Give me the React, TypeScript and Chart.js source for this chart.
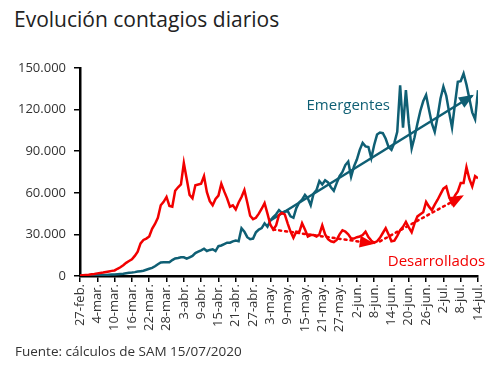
import React, { useEffect, useRef } from "react";
import { Chart, registerables } from "chart.js";

Chart.register(...registerables);

const TITLE = "Evolución contagios diarios";
const SOURCE = "Fuente: cálculos de SAM 15/07/2020";

const TICK_LABELS = [
  "27-feb.", "4-mar.", "10-mar.", "16-mar.", "22-mar.", "28-mar.", "3-abr.", "9-abr.",
  "15-abr.", "21-abr.", "27-abr.", "3-may.", "9-may.", "15-may.", "21-may.", "27-may.",
  "2-jun.", "8-jun.", "14-jun.", "20-jun.", "26-jun.", "2-jul.", "8-jul.", "14-jul.",
];

const Y_TICKS = [0, 30000, 60000, 90000, 120000, 150000];

// Daily new cases, 27-feb .. 14-jul (139 days)
const DESARROLLADOS = [
  300, 500, 700, 900, 1200, 1500, 1900, 2200, 2500, 2900,
  3300, 3700, 4000, 5200, 6300, 7800, 9500, 10800, 12000, 14500,
  17500, 23500, 26000, 27000, 28500, 34000, 37500, 42000, 51000, 53500,
  57000, 50500, 50000, 61500, 64000, 66000, 81500, 70000, 58500, 56000,
  65500, 66000, 66500, 72000, 60500, 54000, 51000, 55500, 58000, 66500,
  61000, 56000, 50000, 51000, 48000, 53000, 57000, 62000, 53000, 43500,
  41000, 42000, 45000, 48500, 52500, 45000, 37000, 33500, 36500, 44000,
  45500, 44500, 38000, 32000, 27500, 32000, 31500, 38000, 33500, 28500,
  29500, 29500, 28500, 30000, 36500, 30000, 26500, 25000, 24500, 26000,
  30000, 33000, 32000, 30000, 27000, 27000, 28000, 28500, 29500, 32000,
  28000, 25500, 24000, 25000, 27500, 31000, 34500, 30000, 25000, 25500,
  29000, 33000, 35500, 39000, 35000, 31500, 38000, 43000, 44500, 46000,
  53500, 50000, 47500, 51500, 55000, 59000, 63000, 64500, 57000, 52500,
  58000, 61000, 67000, 67000, 78500, 70000, 64500, 72000, 70500,
];

const EMERGENTES = [
  300, 300, 400, 400, 500, 500, 600, 700, 700, 800,
  900, 1000, 1100, 1300, 1500, 1700, 2000, 2300, 2500, 2800,
  3200, 3500, 3800, 4500, 5200, 5800, 7000, 8500, 9800, 10000,
  10000, 9900, 11500, 12700, 13000, 13500, 13500, 12500, 13500, 14500,
  16500, 17500, 18500, 19700, 18000, 18800, 19300, 18000, 21500, 22000,
  23000, 24000, 24000, 25000, 25500, 25000, 34500, 32000, 28000, 26500,
  27000, 31500, 33500, 34500, 38000, 35500, 40000, 42500, 44500, 47500,
  45500, 46500, 47000, 43000, 42000, 49000, 53000, 55000, 58500, 56000,
  51000, 59500, 62000, 68500, 66000, 69000, 67500, 64000, 61500, 67000,
  72000, 75000, 80000, 82500, 71500, 79000, 84000, 91000, 96000, 93500,
  93000, 85000, 94500, 102000, 103500, 103000, 99000, 93000, 91000, 96000,
  104000, 137500, 107000, 134000, 110000, 92000, 100000, 110000, 119000, 126000,
  130500, 120000, 110000, 104000, 115000, 128000, 136500, 130000, 118000, 107000,
  124000, 140000, 140500, 146000, 138000, 128000, 118000, 113000, 134000,
];

const TREND_EMERGENTES = [
  { x: 66, y: 40000 },
  { x: 136, y: 130000 },
];
const TREND_DESARROLLADOS_1 = [
  { x: 67, y: 33500 },
  { x: 101.5, y: 23500 },
];
const TREND_DESARROLLADOS_2 = [
  { x: 104, y: 25000 },
  { x: 132.5, y: 57500 },
];

const SERIES_LABELS = [
  { text: "Emergentes", x: 93, y: 122500, color: "#0f5f74" },
  { text: "Desarrollados", x: 123.6, y: 10000, color: "#f20000" },
];

const BLUE = "#0f5f74";
const RED = "#f20000";
const FONT = "'Open Sans', 'Noto Sans', sans-serif";

const fmt = (v: number) =>
  String(v).replace(/\B(?=(\d{3})+(?!\d))/g, ".");

const arrowPlugin = {
  id: "arrowsAndLabels",
  afterDatasetsDraw(chart: any) {
    const ctx = chart.ctx;
    chart.data.datasets.forEach((ds: any, i: number) => {
      if (!ds.arrow) return;
      const meta = chart.getDatasetMeta(i);
      const pts = meta.data;
      if (pts.length < 2) return;
      const a = pts[pts.length - 2];
      const b = pts[pts.length - 1];
      const ang = Math.atan2(b.y - a.y, b.x - a.x);
      const L = 13;
      const W = 6;
      ctx.save();
      ctx.fillStyle = ds.borderColor;
      ctx.translate(b.x, b.y);
      ctx.rotate(ang);
      ctx.beginPath();
      ctx.moveTo(2, 0);
      ctx.lineTo(-L, -W);
      ctx.lineTo(-L, W);
      ctx.closePath();
      ctx.fill();
      ctx.restore();
    });
    const xs = chart.scales.x;
    const ys = chart.scales.y;
    ctx.save();
    ctx.font = `15px ${FONT}`;
    ctx.textAlign = "center";
    ctx.textBaseline = "middle";
    SERIES_LABELS.forEach((l) => {
      ctx.fillStyle = l.color;
      ctx.fillText(l.text, xs.getPixelForValue(l.x), ys.getPixelForValue(l.y));
    });
    ctx.restore();
  },
};

export default function App() {
  const ref = useRef<HTMLCanvasElement | null>(null);

  useEffect(() => {
    if (!ref.current) return;
    const chart = new Chart(ref.current, {
      type: "line",
      data: {
        datasets: [
          {
            label: "Desarrollados",
            data: DESARROLLADOS.map((v, i) => ({ x: i, y: v })),
            borderColor: RED,
            borderWidth: 2.5,
            pointRadius: 0,
            tension: 0,
            fill: false,
          },
          {
            label: "Emergentes",
            data: EMERGENTES.map((v, i) => ({ x: i, y: v })),
            borderColor: BLUE,
            borderWidth: 2.5,
            pointRadius: 0,
            tension: 0,
            fill: false,
          },
          {
            label: "Tendencia Emergentes",
            data: TREND_EMERGENTES,
            borderColor: BLUE,
            borderWidth: 2.5,
            pointRadius: 0,
            fill: false,
            arrow: true,
          } as any,
          {
            label: "Tendencia Desarrollados 1",
            data: TREND_DESARROLLADOS_1,
            borderColor: RED,
            borderWidth: 2.5,
            borderDash: [2, 4],
            borderCapStyle: "round",
            pointRadius: 0,
            fill: false,
            arrow: true,
          } as any,
          {
            label: "Tendencia Desarrollados 2",
            data: TREND_DESARROLLADOS_2,
            borderColor: RED,
            borderWidth: 2.5,
            borderDash: [2, 4],
            borderCapStyle: "round",
            pointRadius: 0,
            fill: false,
            arrow: true,
          } as any,
        ],
      },
      options: {
        animation: false,
        responsive: true,
        maintainAspectRatio: false,
        layout: { padding: { left: 0, right: 22, top: 68, bottom: 29 } },
        plugins: {
          legend: { display: false },
          tooltip: { enabled: false },
          title: { display: false },
        },
        scales: {
          x: {
            type: "linear",
            min: 0,
            max: 138,
            afterFit: (s: any) => {
              s.height = 70;
            },
            afterBuildTicks: (s: any) => {
              s.ticks = TICK_LABELS.map((_, i) => ({ value: i * 6 }));
            },
            ticks: {
              autoSkip: false,
              minRotation: 90,
              maxRotation: 90,
              padding: 2,
              color: "#333",
              font: { family: FONT, size: 13 },
              callback: (v: any) => TICK_LABELS[Math.round(Number(v) / 6)] ?? "",
            },
            grid: {
              drawOnChartArea: false,
              drawTicks: true,
              tickLength: 6,
              color: "#000",
              lineWidth: 1.5,
            },
            border: { color: "#000", width: 2.5 },
          },
          y: {
            min: 0,
            max: 150000,
            afterFit: (s: any) => {
              s.width = 80;
            },
            afterBuildTicks: (s: any) => {
              s.ticks = Y_TICKS.map((v) => ({ value: v }));
            },
            ticks: {
              padding: 8,
              color: "#333",
              font: { family: FONT, size: 13 },
              callback: (v: any) => fmt(Number(v)),
            },
            grid: {
              drawOnChartArea: false,
              drawTicks: true,
              tickLength: 6,
              color: "#000",
              lineWidth: 1.5,
            },
            border: { color: "#000", width: 2.5 },
          },
        },
      },
      plugins: [arrowPlugin],
    });
    return () => chart.destroy();
  }, []);

  return (
    <div
      style={{
        position: "absolute",
        left: 0,
        top: 0,
        width: 500,
        height: 375,
        background: "#fff",
        fontFamily: FONT,
      }}
    >
      <div
        style={{
          position: "absolute",
          left: 14,
          top: 5,
          fontSize: 21,
          color: "#222",
          whiteSpace: "nowrap",
        }}
      >
        {TITLE}
      </div>
      <canvas
        ref={ref}
        style={{ position: "absolute", left: 0, top: 0, width: 500, height: 375 }}
      />
      <div
        style={{
          position: "absolute",
          left: 15,
          top: 342,
          fontSize: 13.5,
          color: "#333",
          whiteSpace: "nowrap",
        }}
      >
        {SOURCE}
      </div>
    </div>
  );
}
